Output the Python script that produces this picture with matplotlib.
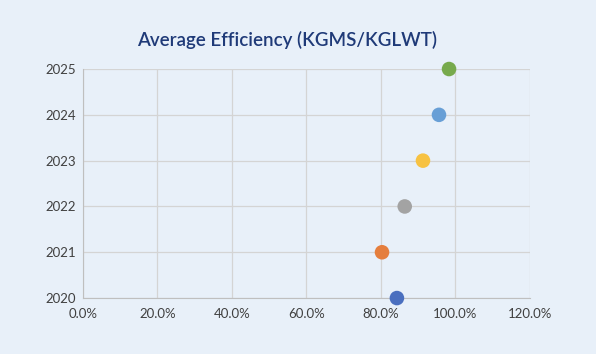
import matplotlib.pyplot as plt
from matplotlib.ticker import PercentFormatter

years = [2020, 2021, 2022, 2023, 2024, 2025]
efficiency = [84.3, 80.3, 86.4, 91.3, 95.6, 98.3]
colors = ['#4a6fbf', '#e57e3d', '#a3a3a3', '#f7c242', '#689fd6', '#77aa4c']
x_ticks = [0, 20, 40, 60, 80, 100, 120]

plt.rcParams['font.family'] = ['Lato', 'DejaVu Sans']

bg = '#e8f0f9'
fig = plt.figure(figsize=(5.96, 3.54), dpi=100, facecolor=bg)
ax = fig.add_axes([0.1393, 0.158, 0.7497, 0.647])
ax.set_facecolor(bg)

ax.scatter(efficiency, years, s=110, c=colors, zorder=3, clip_on=False, linewidths=0)

ax.set_xlim(0, 120)
ax.set_ylim(2020, 2025)
ax.set_xticks(x_ticks)
ax.set_yticks(years)
ax.xaxis.set_major_formatter(PercentFormatter(decimals=1))
ax.grid(True, color='#d4d4d4', linewidth=0.9)
ax.set_axisbelow(True)

for side in ['top', 'right']:
    ax.spines[side].set_visible(False)
for side in ['left', 'bottom']:
    ax.spines[side].set_color('#bfbfbf')
ax.tick_params(length=0, labelsize=9.5, colors='#404040', pad=5)
ax.tick_params(axis='x', pad=7)

fig.text(0.482, 0.887, 'Average Efficiency (KGMS/KGLWT)', ha='center', va='center',
         fontsize=13.5, color='#1f3a78', fontweight='semibold')

fig.savefig('out.png', dpi=100, facecolor=bg)
